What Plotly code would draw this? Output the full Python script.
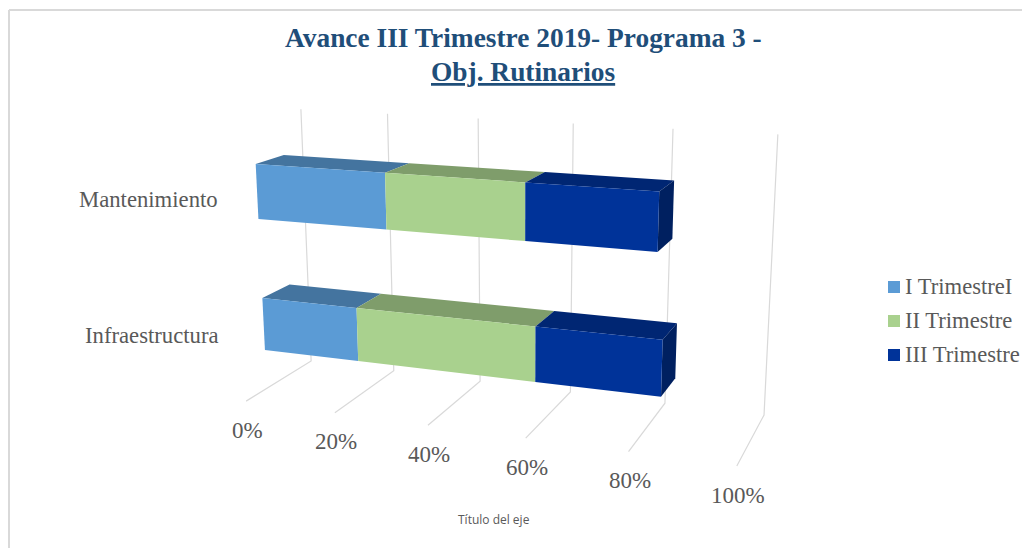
import numpy as np
import plotly.graph_objects as go

# ---- data ----
categories = ["Mantenimiento", "Infraestructura"]
series_names = ["I Trimestre" + "I", "II Trimestre", "III Trimestre"]
trim_1 = [28.3, 21.3]
trim_2 = [28.6, 37.7]
trim_3 = [25.5, 24.8]
axis_ticks = [0, 20, 40, 60, 80, 100]
tick_labels = ["0%", "20%", "40%", "60%", "80%", "100%"]
title_lines = ["Avance III Trimestre 2019- Programa 3 -", "Obj. Rutinarios"]
axis_title = "Título del eje"

# ---- styles ----
front_colors = ["#5B9BD5", "#A9D18E", "#003399"]
top_colors = ["#44749F", "#7F9D6B", "#002673"]
side_colors = ["#2F5F8F", "#6F8F5B", "#002060"]
GRID = "#D9D9D9"
TEXT = "#595959"
SERIF = "Liberation Serif"

# ---- oblique projection of the Excel 3-D chart box onto the page ----
# (percent, depth 0 front..1 back, height 0..1) -> page pixel; fitted to the box frame
calib = [
    (0, 0, 0, 246, 401), (20, 0, 0, 335, 413), (40, 0, 0, 428, 425), (60, 0, 0, 526, 438),
    (80, 0, 0, 628, 452), (100, 0, 0, 737, 466),
    (0, 1, 0, 311, 361), (20, 1, 0, 394, 371), (40, 1, 0, 480, 381), (80, 1, 0, 665, 403),
    (100, 1, 0, 764, 415),
    (0, 1, 1, 301, 109), (60, 1, 1, 573, 124), (80, 1, 1, 673, 129), (100, 1, 1, 778, 134),
]
A, b = [], []
for p, d, h, u, v in calib:
    X = [p / 100, d, h, 1]
    A.append(X + [0, 0, 0, 0] + [-u * c for c in X[:3]]); b.append(u)
    A.append([0, 0, 0, 0] + X + [-v * c for c in X[:3]]); b.append(v)
sol = np.linalg.lstsq(np.array(A, float), np.array(b, float), rcond=None)[0]
P = np.append(sol, 1.0).reshape(3, 4)


def proj(p, d, h):
    r = P @ np.array([p / 100, d, h, 1.0])
    return r[0] / r[2], r[1] / r[2]


def poly(points):
    pts = [proj(*q) for q in points]
    pts.append(pts[0])
    return [a for a, _ in pts], [c for _, c in pts]


fig = go.Figure()

# gridlines: wall + floor
for t in axis_ticks:
    pts = [proj(t, 1, 1), proj(t, 1, 0), proj(t, 0, 0)]
    fig.add_trace(go.Scatter(x=[a for a, _ in pts], y=[c for _, c in pts], mode="lines",
                             line=dict(color=GRID, width=1.2), showlegend=False, hoverinfo="skip"))

# bars
D0, D1 = 0.30, 0.71
bands = {"Mantenimiento": (0.647, 0.848), "Infraestructura": (0.15, 0.35)}
for ci, cat in enumerate(categories):
    h0, h1 = bands[cat]
    vals = [trim_1[ci], trim_2[ci], trim_3[ci]]
    edges = np.cumsum([0] + vals)
    for si in range(3):
        a, c = edges[si], edges[si + 1]
        x, y = poly([(a, D0, h1), (c, D0, h1), (c, D1, h1), (a, D1, h1)])
        fig.add_trace(go.Scatter(x=x, y=y, mode="none", fill="toself", fillcolor=top_colors[si],
                                 showlegend=False, hoverinfo="skip"))
        if si == 2:
            x, y = poly([(c, D0, h0), (c, D1, h0), (c, D1, h1), (c, D0, h1)])
            fig.add_trace(go.Scatter(x=x, y=y, mode="none", fill="toself", fillcolor=side_colors[si],
                                     showlegend=False, hoverinfo="skip"))
        x, y = poly([(a, D0, h0), (c, D0, h0), (c, D0, h1), (a, D0, h1)])
        fig.add_trace(go.Scatter(x=x, y=y, mode="none", fill="toself", fillcolor=front_colors[si],
                                 showlegend=False, hoverinfo="skip"))

ann = []

# legend (Excel's swatch-to-text gap is tighter than Plotly's legend allows)
for si, (name, ly) in enumerate(zip(series_names, [287, 321, 355])):
    fig.add_trace(go.Scatter(x=[894], y=[ly], mode="markers", name=name, showlegend=False, hoverinfo="skip",
                             marker=dict(symbol="square", size=12, color=front_colors[si])))
    ann.append(dict(x=903, y=ly - 1, text=name, xanchor="left", yanchor="middle", showarrow=False,
                    font=dict(family=SERIF, size=22.6, color=TEXT)))

for t, lab in zip(axis_ticks, tick_labels):
    x0, y0 = proj(t, 0, 0)
    ann.append(dict(x=x0 + 1, y=y0 + 29, text=lab, xanchor="center", yanchor="middle", showarrow=False,
                    font=dict(family=SERIF, size=23, color=TEXT)))
for cat, px, py in [("Mantenimiento", 220, 199), ("Infraestructura", 221, 335)]:
    ann.append(dict(x=px, y=py, text=cat, xanchor="right", yanchor="middle", showarrow=False,
                    font=dict(family=SERIF, size=22.7, color=TEXT)))
ann.append(dict(x=494, y=519, text=axis_title, xanchor="center", yanchor="middle", showarrow=False,
                font=dict(family="Open Sans", size=12, color=TEXT)))
ann.append(dict(x=523, y=38, text="<b>" + title_lines[0] + "</b>", xanchor="center", yanchor="middle",
                showarrow=False, font=dict(family=SERIF, size=27.4, color="#1F4E79")))
ann.append(dict(x=523, y=72, text="<b><u>" + title_lines[1] + "</u></b>", xanchor="center", yanchor="middle",
                showarrow=False, font=dict(family=SERIF, size=27.4, color="#1F4E79")))

frame = [
    dict(type="line", x0=9, x1=9, y0=10, y1=548, line=dict(color="#D9D9D9", width=2)),
    dict(type="line", x0=9, x1=1022, y0=10, y1=10, line=dict(color="#D9D9D9", width=2)),
]

fig.update_layout(
    width=1022, height=548, margin=dict(l=0, r=0, t=0, b=0),
    paper_bgcolor="white", plot_bgcolor="white", showlegend=False,
    xaxis=dict(range=[0, 1022], visible=False, fixedrange=True),
    yaxis=dict(range=[548, 0], visible=False, fixedrange=True),
    annotations=ann, shapes=frame, hovermode=False,
)
fig.write_html("out.html", config={"displayModeBar": False},
               post_script="document.body.style.margin='0';")
